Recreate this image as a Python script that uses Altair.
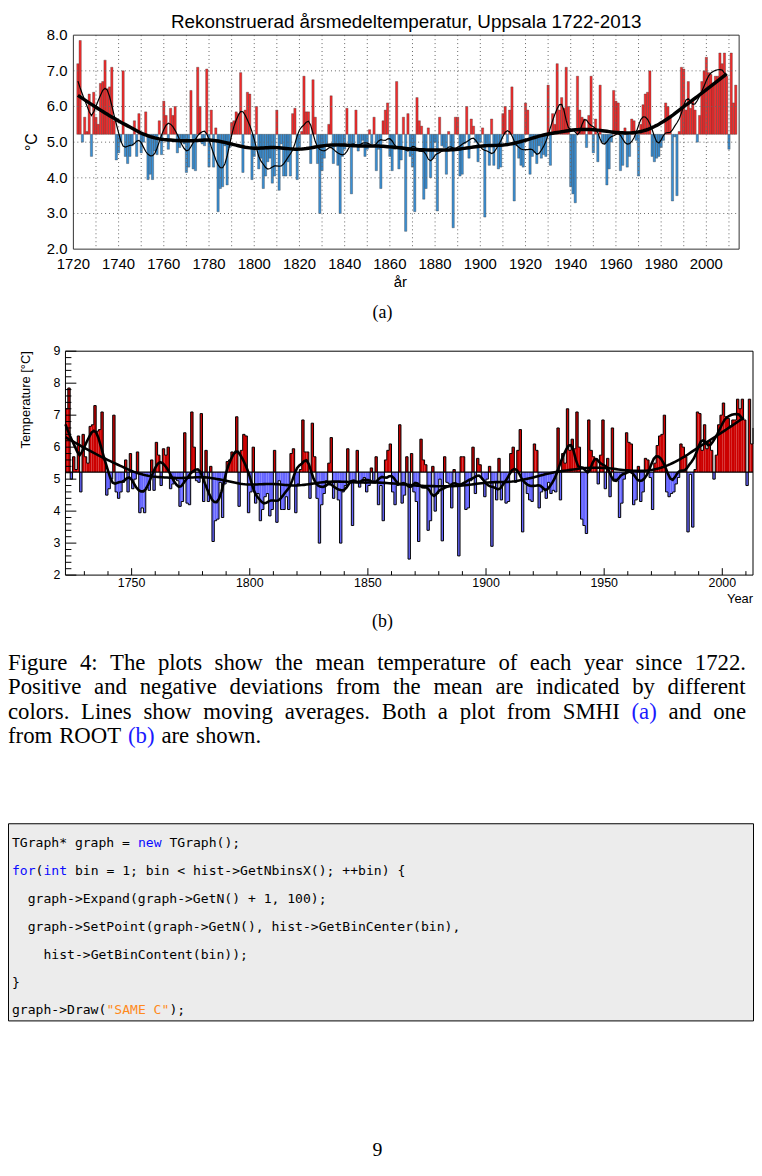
import altair as alt
import pandas as pd

# ---------------- data ----------------
temps = [
    7.2, 7.85, 5.0, 5.7, 5.3, 6.35, 4.6, 6.4,                      # 1722-1729
    5.7, 5.5, 6.65, 6.7, 7.3, 6.5, 6.55, 7.1, 5.6, 4.5,            # 1730s
    4.7, 5.0, 7.0, 4.6, 4.4, 4.6, 4.9, 5.6, 4.6, 5.8,              # 1740s
    4.7, 5.0, 5.85, 3.95, 4.1, 3.95, 4.75, 4.65, 5.6, 4.65,        # 1750s
    6.15, 5.75, 4.8, 5.95, 5.75, 6.0, 4.7, 4.85, 5.0, 4.95,        # 1760s
    4.15, 4.3, 6.45, 4.25, 4.2, 7.1, 6.0, 4.95, 4.9, 7.05,         # 1770s
    4.3, 5.9, 4.3, 5.4, 3.05, 3.7, 3.75, 4.9, 3.8, 4.85,           # 1780s
    5.55, 5.6, 5.85, 5.8, 6.95, 4.15, 5.9, 6.4, 6.35, 3.95,        # 1790s
    4.6, 6.0, 4.25, 4.55, 3.7, 4.05, 4.45, 4.55, 3.85, 4.05,       # 1800s
    5.9, 3.65, 4.95, 4.05, 4.05, 4.45, 4.05, 5.8, 5.95, 3.95,      # 1810s
    4.85, 5.3, 6.85, 5.85, 5.85, 4.4, 6.75, 5.7, 4.4, 3.0,         # 1820s
    4.2, 4.55, 4.95, 5.5, 6.3, 4.4, 4.9, 4.35, 3.0, 4.6,           # 1830s
    4.8, 5.95, 4.95, 3.55, 4.9, 5.9, 4.75, 4.9, 5.05, 4.6,         # 1840s
    4.8, 5.35, 4.95, 5.7, 4.2, 4.8, 3.7, 5.6, 5.9, 6.1,            # 1850s
    4.6, 4.2, 4.8, 6.7, 4.25, 4.5, 5.7, 2.5, 5.8, 4.6,             # 1860s
    4.3, 3.05, 6.25, 5.6, 5.45, 3.4, 3.7, 5.4, 4.0, 4.55,          # 1870s
    5.0, 3.07, 5.7, 4.9, 4.85, 4.1, 5.3, 4.8, 2.6, 5.7,            # 1880s
    5.7, 4.05, 4.1, 4.95, 6.0, 4.55, 5.65, 5.45, 5.0, 4.45,        # 1890s
    5.0, 5.4, 2.9, 4.9, 4.35, 5.65, 4.35, 4.9, 4.25, 4.3,          # 1900s
    5.8, 6.0, 4.9, 5.9, 6.55, 3.35, 4.9, 4.55, 4.35, 4.3,          # 1910s
    6.1, 5.9, 4.1, 4.6, 4.7, 4.4, 4.9, 4.55, 4.65, 4.6,            # 1920s
    6.6, 4.35, 5.8, 5.5, 7.2, 5.9, 6.25, 5.95, 7.1, 6.0,           # 1930s
    3.75, 3.55, 3.3, 6.85, 5.9, 5.7, 5.65, 4.85, 5.75, 6.85,       # 1940s
    4.7, 5.65, 4.45, 6.6, 5.0, 4.95, 3.8, 4.25, 5.0, 6.45,         # 1950s
    6.15, 6.1, 4.2, 4.35, 5.4, 4.3, 4.6, 5.65, 5.6, 5.05,          # 1960s
    4.05, 5.5, 6.05, 6.35, 6.4, 7.0, 4.6, 4.45, 4.55, 4.6,         # 1970s
    4.85, 5.05, 6.1, 6.0, 5.7, 3.35, 5.15, 3.5, 5.3, 7.1,          # 1980s
    7.05, 5.9, 6.7, 5.95, 6.2, 5.9, 5.0, 5.75, 6.7, 7.0,           # 1990s
    7.38, 6.95, 6.9, 6.65, 6.85, 6.85, 7.5, 7.2, 7.5, 6.85,        # 2000s
    4.8, 7.5, 6.1, 6.6,                                            # 2010-2013
]
years = list(range(1722, 1722 + len(temps)))
BASE = 5.22
SMOOTH_END = 2009

TITLE_A = "Rekonstruerad årsmedeltemperatur, Uppsala 1722-2013"
XTITLE_A = "år"
YTITLE_A = "°C"
LABEL_A = "(a)"
xlabels_a = [1720, 1740, 1760, 1780, 1800, 1820, 1840, 1860, 1880, 1900,
             1920, 1940, 1960, 1980, 2000]
xgrid_a = [1730, 1740, 1750, 1760, 1770, 1780, 1790, 1800, 1810, 1820, 1830,
           1840, 1850, 1860, 1870, 1880, 1890, 1900, 1910, 1920, 1930, 1940,
           1950, 1960, 1970, 1980, 1990, 2000, 2010]
ylabels_a = [2, 3, 4, 5, 6, 7, 8]
ygrid_a = [3, 4, 5, 6, 7]

XTITLE_B = "Year"
YTITLE_B = "Temperature [°C]"
LABEL_B = "(b)"
xmajor_b = [1750, 1800, 1850, 1900, 1950, 2000]
xminor_b = [1730, 1740, 1760, 1770, 1780, 1790, 1810, 1820, 1830, 1840, 1860,
            1870, 1880, 1890, 1910, 1920, 1930, 1940, 1960, 1970, 1980, 1990, 2010]
ymajor_b = [2, 3, 4, 5, 6, 7, 8, 9]
yminor_b = [2.2, 2.4, 2.6, 2.8, 3.2, 3.4, 3.6, 3.8, 4.2, 4.4, 4.6, 4.8,
            5.2, 5.4, 5.6, 5.8, 6.2, 6.4, 6.6, 6.8, 7.2, 7.4, 7.6, 7.8,
            8.2, 8.4, 8.6, 8.8]

caption_lines = [
    "Figure 4:  The plots show the mean temperature of each year since 1722.",
    "Positive and negative deviations from the mean are indicated by different",
    "colors.  Lines show moving averages.  Both a plot from SMHI (a) and one",
    "from ROOT (b) are shown.",
]
PAGE_NO = "9"

KW = "#0a0aff"
STR = "#ff8a1c"
code_lines = [
    [("TGraph* graph = ", "black"), ("new", KW), (" TGraph();", "black")],
    [("for", KW), ("(", "black"), ("int", KW),
     (" bin = 1; bin < hist->GetNbinsX(); ++bin) {", "black")],
    [("  graph->Expand(graph->GetN() + 1, 100);", "black")],
    [("  graph->SetPoint(graph->GetN(), hist->GetBinCenter(bin),", "black")],
    [("    hist->GetBinContent(bin));", "black")],
    [("}", "black")],
    [("graph->Draw(", "black"), ('"SAME C"', STR), (");", "black")],
]

# ---------------- styles / page geometry (pixels, origin = page (8, 8)) ----------------
SANS = "Liberation Sans"
SERIF = "Liberation Serif"
MONO = "DejaVu Sans Mono"
RED_A, BLUE_A = "#f42c2c", "#3a8fd4"
RED_B, BLUE_B = "#cc0000", "#6666ff"
LINK = "#1a1aff"
PAGE_W, PAGE_H = 753, 1155

AX0, AX1, AY0, AY1 = 66, 738, 22, 238        # plot (a)
BX0, BX1, BY0, BY1 = 58, 752, 341, 567       # plot (b)

xsA = alt.Scale(domain=[1720, 2014.5], range=[AX0, AX1], nice=False, zero=False)
ysA = alt.Scale(domain=[2, 8], range=[AY1, AY0], nice=False, zero=False)
xsB = alt.Scale(domain=[1722, 2013], range=[BX0, BX1], nice=False, zero=False)
ysB = alt.Scale(domain=[2, 9], range=[BY1, BY0], nice=False, zero=False)

df = pd.DataFrame({"year": years, "temp": temps})
one = pd.DataFrame({"t": [""]})


def label(text, x, y, font, size, align="center", baseline="alphabetic", angle=0):
    kw = dict(font=font, fontSize=size, align=align, baseline=baseline, color="black")
    if angle:
        kw["angle"] = angle
    return alt.Chart(one).mark_text(**kw).encode(
        text=alt.value(text), x=alt.value(x), y=alt.value(y))


def frame(x0, x1, y0, y1, color):
    return alt.Chart(one).mark_rect(fillOpacity=0, stroke=color, strokeWidth=1).encode(
        x=alt.value(x0), x2=alt.value(x1), y=alt.value(y0), y2=alt.value(y1))


def smooth(bw, xs, ys, width):
    return alt.Chart(df).transform_loess("year", "temp", bandwidth=bw).transform_filter(
        alt.datum.year <= SMOOTH_END
    ).mark_line(color="black", strokeWidth=width).encode(
        x=alt.X("year:Q", scale=xs, axis=None), y=alt.Y("temp:Q", scale=ys, axis=None))


# ================= panel (a) =================
barsA = alt.Chart(df).transform_calculate(
    x0="datum.year - 0.5", x1="datum.year + 0.5"
).mark_rect(stroke="#333333", strokeWidth=0.35).encode(
    x=alt.X("x0:Q", scale=xsA, axis=None),
    x2="x1:Q",
    y=alt.Y("temp:Q", scale=ysA, axis=None),
    y2=alt.datum(BASE),
    color=alt.condition(alt.datum.temp >= BASE, alt.value(RED_A), alt.value(BLUE_A)),
)
gridXA = alt.Chart(pd.DataFrame({"g": xgrid_a})).mark_rule(
    color="#666666", strokeDash=[1, 3], strokeWidth=1
).encode(x=alt.X("g:Q", scale=xsA, axis=None), y=alt.value(AY0), y2=alt.value(AY1))
gridYA = alt.Chart(pd.DataFrame({"g": ygrid_a})).mark_rule(
    color="#666666", strokeDash=[1, 3], strokeWidth=1
).encode(y=alt.Y("g:Q", scale=ysA, axis=None), x=alt.value(AX0), x2=alt.value(AX1))
xlabA = alt.Chart(pd.DataFrame({"v": xlabels_a})).mark_text(
    font=SANS, fontSize=15, align="center", baseline="alphabetic", color="black"
).encode(x=alt.X("v:Q", scale=xsA, axis=None), y=alt.value(258),
         text=alt.Text("v:Q", format="d"))
ylabA = alt.Chart(pd.DataFrame({"v": ylabels_a})).mark_text(
    font=SANS, fontSize=15, align="right", baseline="middle", color="black"
).encode(y=alt.Y("v:Q", scale=ysA, axis=None), x=alt.value(60),
         text=alt.Text("v:Q", format=".1f"))

layersA = [
    barsA, gridXA, gridYA,
    smooth(0.045, xsA, ysA, 1.2), smooth(0.2, xsA, ysA, 3.5),
    frame(AX0, AX1, AY0, AY1, "#333333"),
    xlabA, ylabA,
    label(TITLE_A, 402, 15, SANS, 19),
    label(XTITLE_A, 396, 276, SANS, 15),
    label(YTITLE_A, 24, 130, SANS, 16, baseline="middle", angle=270),
    label(LABEL_A, 378, 307, SERIF, 18),
]

# ================= panel (b) =================
barsB = alt.Chart(df).transform_calculate(x1="min(datum.year + 1, 2013)").mark_rect().encode(
    x=alt.X("year:Q", scale=xsB, axis=None),
    x2="x1:Q",
    y=alt.Y("temp:Q", scale=ysB, axis=None),
    y2=alt.datum(BASE),
    color=alt.condition(alt.datum.temp >= BASE, alt.value(RED_B), alt.value(BLUE_B)),
)
stepB = alt.Chart(df).mark_line(interpolate="step-after", color="black", strokeWidth=1).encode(
    x=alt.X("year:Q", scale=xsB, axis=None), y=alt.Y("temp:Q", scale=ysB, axis=None))
baseB = alt.Chart(pd.DataFrame({"b": [BASE]})).mark_rule(color="black", strokeWidth=1.2).encode(
    y=alt.Y("b:Q", scale=ysB, axis=None), x=alt.value(BX0), x2=alt.value(BX1))

tXmaj = alt.Chart(pd.DataFrame({"t": xmajor_b})).mark_rule(color="black").encode(
    x=alt.X("t:Q", scale=xsB, axis=None), y=alt.value(BY1), y2=alt.value(BY1 - 7))
tXmin = alt.Chart(pd.DataFrame({"t": xminor_b})).mark_rule(color="black").encode(
    x=alt.X("t:Q", scale=xsB, axis=None), y=alt.value(BY1), y2=alt.value(BY1 - 4))
tYmaj = alt.Chart(pd.DataFrame({"t": ymajor_b})).mark_rule(color="black").encode(
    y=alt.Y("t:Q", scale=ysB, axis=None), x=alt.value(BX0), x2=alt.value(BX0 + 11))
tYmin = alt.Chart(pd.DataFrame({"t": yminor_b})).mark_rule(color="black").encode(
    y=alt.Y("t:Q", scale=ysB, axis=None), x=alt.value(BX0), x2=alt.value(BX0 + 6))

xlabB = alt.Chart(pd.DataFrame({"v": xmajor_b})).mark_text(
    font=SANS, fontSize=12.5, align="center", baseline="alphabetic", color="black"
).encode(x=alt.X("v:Q", scale=xsB, axis=None), y=alt.value(579),
         text=alt.Text("v:Q", format="d"))
ylabB = alt.Chart(pd.DataFrame({"v": ymajor_b})).mark_text(
    font=SANS, fontSize=12.5, align="right", baseline="middle", color="black"
).encode(y=alt.Y("v:Q", scale=ysB, axis=None), x=alt.value(53),
         text=alt.Text("v:Q", format="d"))

# --- caption (justified lines, Times-like advance widths) ---
TIMES = {" ": 250, "(": 333, ")": 333, ",": 250, ".": 250, ":": 278,
         "0": 500, "1": 500, "2": 500, "4": 500, "7": 500,
         "A": 722, "B": 667, "F": 556, "H": 722, "I": 333, "L": 611,
         "M": 889, "O": 722, "P": 556, "R": 667, "S": 556, "T": 611,
         "a": 444, "b": 500, "c": 444, "d": 500, "e": 444, "f": 333,
         "g": 500, "h": 500, "i": 278, "l": 278, "m": 778, "n": 500,
         "o": 500, "p": 500, "r": 333, "s": 389, "t": 278, "u": 500,
         "v": 500, "w": 722, "y": 500}
CAP_FS = 23
CAP_L, CAP_R = 0, 745
CAP_Y = [663, 687.5, 712, 736.5]


def tw(s):
    return sum(TIMES.get(c, 480) for c in s) * CAP_FS / 1000.0


cap_rows = []
for li, line in enumerate(caption_lines):
    words = line.split()
    widths = [tw(w) for w in words]
    if li < len(caption_lines) - 1:
        gap = max((CAP_R - CAP_L - sum(widths)) / (len(words) - 1), 0.15 * CAP_FS)
    else:
        gap = 0.3 * CAP_FS
    x = CAP_L
    for w, wd in zip(words, widths):
        cap_rows.append({"text": w, "x": x, "y": CAP_Y[li],
                         "color": LINK if w in ("(a)", "(b)") else "black"})
        x += wd + gap

# --- code listing (monospace columns) ---
CODE_FS = 13.2
CW = 0.602 * CODE_FS
CODE_X = 4
CODE_Y = [841, 869.5, 898, 926.5, 955, 983, 1010]
code_rows = []
for li, segs in enumerate(code_lines):
    col = 0
    for txt, colr in segs:
        lead = len(txt) - len(txt.lstrip(" "))
        code_rows.append({"text": txt.strip(" "), "x": CODE_X + (col + lead) * CW,
                          "y": CODE_Y[li], "color": colr})
        col += len(txt)


def text_layer(rows, font, size):
    return alt.Chart(pd.DataFrame(rows)).mark_text(
        font=font, fontSize=size, align="left", baseline="alphabetic"
    ).encode(
        x=alt.X("x:Q", scale=None, axis=None),
        y=alt.Y("y:Q", scale=None, axis=None),
        text="text:N",
        color=alt.Color("color:N", scale=None, legend=None),
    )


boxB = alt.Chart(one).mark_rect(fill="#ececec", stroke="black", strokeWidth=1).encode(
    x=alt.value(0.5), x2=alt.value(752.5), y=alt.value(818), y2=alt.value(1017))

layersB = [
    barsB, stepB, baseB,
    smooth(0.045, xsB, ysB, 2.6), smooth(0.2, xsB, ysB, 2.6),
    tXmaj, tXmin, tYmaj, tYmin,
    frame(BX0, BX1, BY0, BY1, "black"), xlabB, ylabB,
    label(XTITLE_B, BX1, 595, SANS, 13, align="right"),
    label(YTITLE_B, 22, BY0, SANS, 13, align="right", angle=270),
    label(LABEL_B, 378, 619, SERIF, 18),
    text_layer(cap_rows, SERIF, CAP_FS),
    boxB,
    text_layer(code_rows, MONO, CODE_FS),
    label(PAGE_NO, 373, 1153, SERIF, 20),
]

chart = alt.layer(*layersA, *layersB).resolve_scale(
    x="independent", y="independent"
).properties(
    width=PAGE_W, height=PAGE_H, padding=0, background="white",
    autosize=alt.AutoSizeParams(type="none"),
).configure_view(strokeWidth=0)

chart.save("out.html", embed_options={"renderer": "svg", "actions": False})
